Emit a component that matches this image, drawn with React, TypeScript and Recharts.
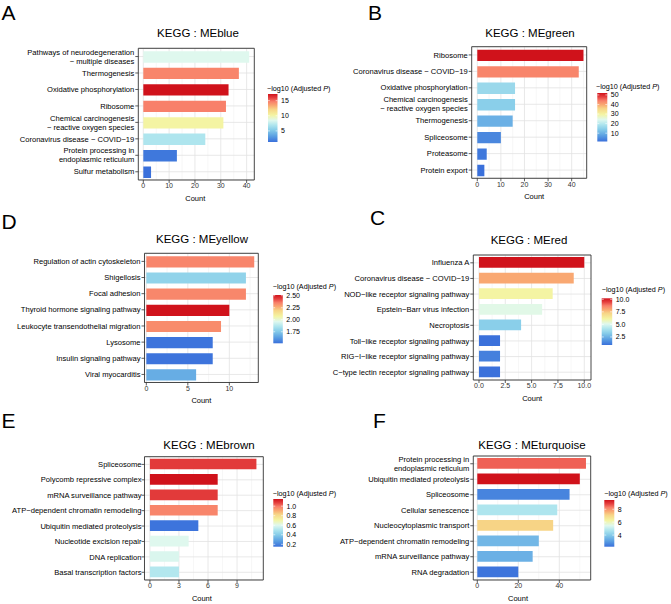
import React from 'react'
import {
  BarChart,
  Bar,
  XAxis,
  YAxis,
  CartesianGrid,
  Cell,
  ReferenceArea
} from 'recharts'

const FONT = '"Liberation Sans", Arial, Helvetica, sans-serif'

// KEGG : MEblue
const blueTerms = [
  'Pathways of neurodegeneration\n− multiple diseases',
  'Thermogenesis',
  'Oxidative phosphorylation',
  'Ribosome',
  'Chemical carcinogenesis\n− reactive oxygen species',
  'Coronavirus disease − COVID−19',
  'Protein processing in\nendoplasmic reticulum',
  'Sulfur metabolism'
]
const blueCount = [41, 37, 33, 32, 31, 24, 13, 3]
const blueLogP = [8.47, 14.5, 17.2, 14.66, 10.2, 6.9, 1.65, 1.35]

// KEGG : MEgreen
const greenTerms = [
  'Ribosome',
  'Coronavirus disease − COVID−19',
  'Oxidative phosphorylation',
  'Chemical carcinogenesis\n− reactive oxygen species',
  'Thermogenesis',
  'Spliceosome',
  'Proteasome',
  'Protein export'
]
const greenCount = [45, 43, 16, 16, 15, 10, 4, 3]
const greenLogP = [52, 43.4, 16.5, 14.5, 9.9, 4.3, 2.3, 1.35]

// KEGG : MEyellow
const yellowTerms = [
  'Regulation of actin cytoskeleton',
  'Shigellosis',
  'Focal adhesion',
  'Thyroid hormone signaling pathway',
  'Leukocyte transendothelial migration',
  'Lysosome',
  'Insulin signaling pathway',
  'Viral myocarditis'
]
const yellowCount = [13, 12, 12, 10, 9, 8, 8, 6]
const yellowLogP = [2.344, 1.79, 2.34, 2.515, 2.33, 1.52, 1.52, 1.67]

// KEGG : MEred
const redTerms = [
  'Influenza A',
  'Coronavirus disease − COVID−19',
  'NOD−like receptor signaling pathway',
  'Epstein−Barr virus infection',
  'Necroptosis',
  'Toll−like receptor signaling pathway',
  'RIG−I−like receptor signaling pathway',
  'C−type lectin receptor signaling pathway'
]
const redCount = [10, 9, 7, 6, 4, 2, 2, 2]
const redLogP = [10.2, 7.97, 6.1, 5.18, 3.32, 0.92, 1.27, 0.92]

// KEGG : MEbrown
const brownTerms = [
  'Spliceosome',
  'Polycomb repressive complex',
  'mRNA surveillance pathway',
  'ATP−dependent chromatin remodeling',
  'Ubiquitin mediated proteolysis',
  'Nucleotide excision repair',
  'DNA replication',
  'Basal transcription factors'
]
const brownCount = [11, 7, 7, 7, 5, 4, 3, 3]
const brownLogP = [1.08, 1.15, 1.08, 0.98, 0.16, 0.6, 0.59, 0.51]

// KEGG : MEturquoise
const turquoiseTerms = [
  'Protein processing in\nendoplasmic reticulum',
  'Ubiquitin mediated proteolysis',
  'Spliceosome',
  'Cellular senescence',
  'Nucleocytoplasmic transport',
  'ATP−dependent chromatin remodeling',
  'mRNA surveillance pathway',
  'RNA degradation'
]
const turquoiseCount = [53, 50, 45, 39, 37, 30, 27, 20]
const turquoiseLogP = [8.56, 9.43, 2.56, 4.73, 7.12, 3.57, 3.43, 2.27]

// colour ramp for -log10(adjusted P), low -> high
const rampStops: [number, string][] = [
  [0, '#3A70DB'],
  [0.12, '#5A9FE2'],
  [0.25, '#86CCE9'],
  [0.35, '#AEE5EE'],
  [0.45, '#DFF8EE'],
  [0.56, '#F4F4A2'],
  [0.68, '#F7D486'],
  [0.76, '#F9A872'],
  [0.84, '#F8806A'],
  [0.92, '#E5403F'],
  [1, '#D0121B']
]

const hexRgb = (h: string) => [1, 3, 5].map(i => parseInt(h.slice(i, i + 2), 16))

function rampColor(t: number) {
  const v = Math.max(0, Math.min(1, t))
  for (let i = 1; i < rampStops.length; i++) {
    const [t1, c1] = rampStops[i]
    if (v <= t1) {
      const [t0, c0] = rampStops[i - 1]
      const f = (v - t0) / (t1 - t0)
      const a = hexRgb(c0)
      const b = hexRgb(c1)
      return `rgb(${a.map((x, k) => Math.round(x + (b[k] - x) * f)).join(',')})`
    }
  }
  return rampStops[rampStops.length - 1][1]
}

const panels = [
  {
    key: 'A', title: 'KEGG : MEblue', terms: blueTerms, counts: blueCount, logp: blueLogP,
    colX: 0, rowY: 0, plot: [138.3, 48.3, 254.3, 180], domain: [-1.94, 42.97],
    ticks: [0, 10, 20, 30, 40], minor: [5, 15, 25, 35], gap: 1, countDx: -1,
    letter: [1.5, 20], titleAt: [198, 37.3],
    legend: { tx: 267, ty: 90.5, x: 268, y: 94, w: 9.5, h: 48, min: 1.33, max: 17.2, ticks: [5, 10, 15], digits: 0 }
  },
  {
    key: 'B', title: 'KEGG : MEgreen', terms: greenTerms, counts: greenCount, logp: greenLogP,
    colX: 320, rowY: 0, plot: [471.7, 46.7, 586.7, 178.3], domain: [-2.37, 46.36],
    ticks: [0, 10, 20, 30, 40], minor: [5, 15, 25, 35, 45], gap: 1, countDx: 5,
    letter: [368, 20], titleAt: [530, 37.3],
    legend: { tx: 596, ty: 88.5, x: 597.3, y: 93, w: 10, h: 48.5, min: 1.3, max: 52, ticks: [10, 20, 30, 40, 50], digits: 0 }
  },
  {
    key: 'D', title: 'KEGG : MEyellow', terms: yellowTerms, counts: yellowCount, logp: yellowLogP,
    colX: 0, rowY: 200, plot: [144.5, 253.3, 258.3, 382.5], domain: [-0.22, 13.49],
    ticks: [0, 5, 10], minor: [2.5, 7.5, 12.5], gap: 1, countDx: 0,
    letter: [1.5, 229], titleAt: [202, 242.5],
    legend: { tx: 272.7, ty: 288.5, x: 273.3, y: 295, w: 9.5, h: 48.3, min: 1.51, max: 2.515, ticks: [1.75, 2, 2.25, 2.5], digits: 2 }
  },
  {
    key: 'C', title: 'KEGG : MEred', terms: redTerms, counts: redCount, logp: redLogP,
    colX: 320, rowY: 200, plot: [473.3, 255, 591, 380], domain: [-0.54, 10.64],
    ticks: [0, 2.5, 5, 7.5, 10], minor: [1.25, 3.75, 6.25, 8.75], gap: 1, countDx: 0,
    letter: [370, 225], titleAt: [529, 244], digits: 1,
    legend: { tx: 601.7, ty: 291.5, x: 601.7, y: 298.3, w: 10.5, h: 46.7, min: 0.9, max: 10.2, ticks: [2.5, 5, 7.5, 10], digits: 1 }
  },
  {
    key: 'E', title: 'KEGG : MEbrown', terms: brownTerms, counts: brownCount, logp: brownLogP,
    colX: 0, rowY: 400, plot: [144.5, 456.7, 263.3, 580], domain: [-0.56, 11.71],
    ticks: [0, 3, 6, 9], minor: [1.5, 4.5, 7.5, 10.5], gap: 0, countDx: -2,
    letter: [1.5, 428], titleAt: [209, 448.5],
    legend: { tx: 272.7, ty: 496, x: 273.3, y: 499, w: 9.7, h: 47.7, min: 0.15, max: 1.15, ticks: [0.2, 0.4, 0.6, 0.8, 1.0], digits: 1 }
  },
  {
    key: 'F', title: 'KEGG : MEturquoise', terms: turquoiseTerms, counts: turquoiseCount, logp: turquoiseLogP,
    colX: 320, rowY: 400, plot: [473.3, 456, 590.7, 580], domain: [-1.95, 55.3],
    ticks: [0, 20, 40], minor: [10, 30, 50], gap: 1, countDx: -14,
    letter: [373, 428], titleAt: [532, 448.5],
    legend: { tx: 604.3, ty: 496, x: 604.3, y: 500, w: 10, h: 46.7, min: 2.2, max: 9.43, ticks: [4, 6, 8], digits: 0 }
  }
]

function YTick(props: any) {
  const { x, y, payload } = props
  const lines = String(payload.value).split('\n')
  const lh = 9
  const y0 = y - ((lines.length - 1) * lh) / 2
  return (
    <text x={x} y={y0} textAnchor="end" fontSize={7.6} fill="#000" fontFamily={FONT}>
      {lines.map((l, i) => (
        <tspan key={i} x={x} y={y0 + i * lh} dy="0.35em">{l}</tspan>
      ))}
    </text>
  )
}

// map values to pixels with the axis scale handed to the grid generator
function scaleX(args: any, vals: number[], d0: number, d1: number) {
  const sc = args && args.xAxis ? args.xAxis.scale : null
  const off = args.offset
  return vals.map(v => {
    let px: any = NaN
    if (typeof sc === 'function') px = sc(v)
    else if (sc && typeof sc.map === 'function') px = sc.map(v)
    if (typeof px !== 'number' || !isFinite(px)) px = off.left + ((v - d0) / (d1 - d0)) * off.width
    return px
  })
}

function Panel({ p }: { p: any }) {
  const data = p.terms.map((t: string, i: number) => ({ term: t, count: p.counts[i], logp: p.logp[i] }))
  const [pl, pt, pr, pb] = p.plot
  const width = pr + 10 - p.colX
  const height = pb + 22 - p.rowY
  const band = (pb - pt) / p.terms.length
  const { min, max } = p.legend
  const [d0, d1] = p.domain
  const fmt = (v: number) => (p.digits ? v.toFixed(p.digits) : String(v))

  return (
    <div style={{ position: 'absolute', left: p.colX, top: p.rowY }}>
      <BarChart
        layout="vertical"
        width={width}
        height={height}
        data={data}
        margin={{ top: pt - p.rowY, right: 10, bottom: 0, left: 0 }}
      >
        <CartesianGrid
          horizontal={false}
          stroke="#EEEEEE"
          strokeWidth={0.5}
          verticalCoordinatesGenerator={(args: any) => scaleX(args, p.minor, d0, d1)}
        />
        <CartesianGrid
          stroke="#E2E2E2"
          strokeWidth={0.8}
          verticalCoordinatesGenerator={(args: any) => scaleX(args, p.ticks, d0, d1)}
        />
        <XAxis
          type="number"
          domain={p.domain}
          allowDataOverflow
          ticks={p.ticks}
          interval={0}
          height={22}
          axisLine={false}
          tickSize={3}
          tickMargin={0.5}
          tickLine={{ stroke: '#333', strokeWidth: 0.8 }}
          tick={(tp: any) => (
            <text x={tp.x} y={tp.y} dy="0.71em" textAnchor="middle" fontSize={7} fill="#333" fontFamily={FONT}>
              {fmt(tp.payload.value)}
            </text>
          )}
          label={{
            value: 'Count',
            position: 'insideBottom',
            offset: 1,
            dx: p.countDx,
            fontSize: 7.5,
            fill: '#000',
            fontFamily: FONT
          }}
        />
        <YAxis
          type="category"
          dataKey="term"
          width={pl - p.colX}
          interval={0}
          axisLine={false}
          tickSize={3}
          tickMargin={p.gap}
          tickLine={{ stroke: '#333', strokeWidth: 0.8 }}
          tick={(tp: any) => <YTick {...tp} />}
        />
        <Bar dataKey="count" barSize={band * 0.69} isAnimationActive={false}>
          {data.map((d: any, i: number) => (
            <Cell key={`cell-${i}`} fill={rampColor((d.logp - min) / (max - min))} />
          ))}
        </Bar>
        <ReferenceArea
          x1={d0}
          x2={d1}
          ifOverflow="visible"
          fill="none"
          fillOpacity={0}
          stroke="#333"
          strokeWidth={0.9}
        />
      </BarChart>
    </div>
  )
}

function ColorBar({ id, lg }: { id: string; lg: any }) {
  const pos = (v: number) => lg.y + lg.h - ((v - lg.min) / (lg.max - lg.min)) * lg.h
  return (
    <g>
      <defs>
        <linearGradient id={id} x1="0" y1="1" x2="0" y2="0">
          {rampStops.map(([t, c]) => (
            <stop key={t} offset={t} stopColor={c} />
          ))}
        </linearGradient>
      </defs>
      <text x={lg.tx} y={lg.ty} fontSize={7.2} fill="#000">
        −log10 (Adjusted <tspan fontStyle="italic">P</tspan>)
      </text>
      <rect x={lg.x} y={lg.y} width={lg.w} height={lg.h} fill={`url(#${id})`} />
      {lg.ticks.map((v: number) => (
        <g key={v}>
          <line x1={lg.x} x2={lg.x + lg.w / 5} y1={pos(v)} y2={pos(v)} stroke="#fff" strokeWidth={0.6} />
          <line x1={lg.x + lg.w} x2={lg.x + lg.w * 0.8} y1={pos(v)} y2={pos(v)} stroke="#fff" strokeWidth={0.6} />
          <text x={lg.x + lg.w + 3.5} y={pos(v)} dy="0.35em" fontSize={7} fill="#000">
            {v.toFixed(lg.digits)}
          </text>
        </g>
      ))}
    </g>
  )
}

export default function App() {
  return (
    <div
      style={{
        position: 'absolute',
        left: 0,
        top: 0,
        width: 671,
        height: 604,
        background: '#fff',
        fontFamily: FONT,
        overflow: 'hidden'
      }}
    >
      {panels.map(p => (
        <Panel key={p.key} p={p} />
      ))}
      <svg
        width={671}
        height={604}
        style={{ position: 'absolute', left: 0, top: 0, pointerEvents: 'none' }}
        fontFamily={FONT}
      >
        {panels.map(p => (
          <g key={p.key}>
            <text x={p.letter[0]} y={p.letter[1]} fontSize={21} fill="#000">{p.key}</text>
            <text x={p.titleAt[0]} y={p.titleAt[1]} fontSize={11.5} textAnchor="middle" fill="#000">
              {p.title}
            </text>
            <ColorBar id={`grad-${p.key}`} lg={p.legend} />
          </g>
        ))}
      </svg>
    </div>
  )
}
